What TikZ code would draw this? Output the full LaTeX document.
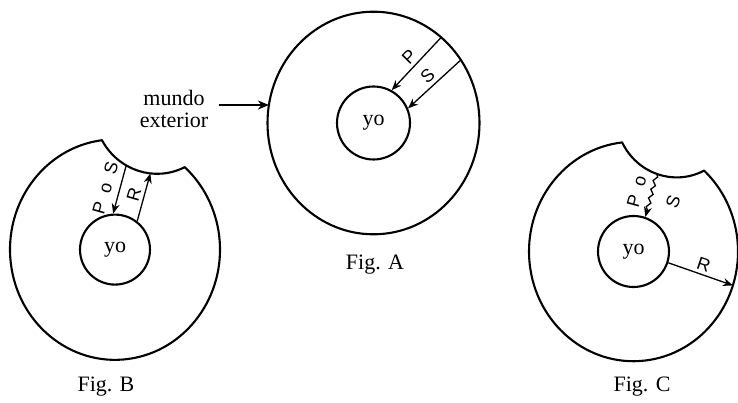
\documentclass[tikz,border=0pt]{standalone}
\usepackage{fontspec}
\setmainfont{Liberation Serif}
\newfontfamily\letrafont{Liberation Sans}
\usetikzlibrary{arrows.meta,decorations.pathmorphing}
\tikzset{
  borde/.style={line width=2.1pt, line join=round},
  yo/.style={circle, draw, line width=2.1pt, inner sep=0pt, font=\fontsize{22}{24}\selectfont},
  flecha/.style={line width=1.3pt, -{Stealth[length=10pt,width=8pt]}},
  letra/.style={font=\letrafont\fontsize{18}{20}\selectfont},
  pie/.style={font=\fontsize{22}{24}\selectfont},
  figura/.style={yscale=1.05}
}

\begin{document}
\begin{tikzpicture}[x=1pt,y=1pt]
\useasboundingbox (0,0) rectangle (738,402);
% Fig. A
\begin{scope}[shift={(373.5,279)},figura]
\draw[borde] (0,0) circle (106);
\node[yo, minimum size=73pt] (yoA) at (0,0) {yo};
\coordinate (pA) at (50.3:106);
\coordinate (sA) at (34.5:106);
\coordinate (extA) at (170.7:106);
\draw[flecha] (pA) -- node[sloped,above,letra]{P} (yoA.61);
\draw[flecha] (sA) -- node[sloped,above,letra]{S} (yoA.23);
\node[align=center, font=\fontsize{22}{22}\selectfont] (mundo) at (-199.5,13.3) {mundo\\exterior};
\draw[line width=2.8pt, -{Stealth[length=11pt,width=9pt]}]
  ([xshift=7pt]mundo.east |- extA) -- (extA);
\node[pie] (figA) at (1.5,-135.2) {Fig. A};
\end{scope}
% Fig. B
\begin{scope}[shift={(115,152.4)},figura]
\draw[borde] (97.2:105) arc[start angle=97.2, end angle=408.4, radius=105]
  arc[start angle=295.8, end angle=209.7, radius=63.5] -- cycle;
\node[yo, minimum size=70pt] (yoB) at (0,0) {yo};
\coordinate (mordB) at (42,135.7);
\path (mordB) ++(241:63.5) coordinate (psB);
\path (mordB) ++(264:63.5) coordinate (rB);
\draw[flecha] (psB) -- node[pos=0.55,sloped,above=4pt,letra]{P\ \ o\ \ S} (yoB.93);
\draw[flecha] (yoB.52) -- node[sloped,above,letra]{R} (rB);
\node[pie] (figB) at (-9,-130.9) {Fig. B};
\end{scope}
% Fig. C
\begin{scope}[shift={(633.5,150.5)},figura]
\draw[borde] (96.3:104.5) arc[start angle=96.3, end angle=407.5, radius=104.5]
  arc[start angle=296.6, end angle=207.1, radius=61.3] -- cycle;
\node[yo, minimum size=71pt] (yoC) at (0,0) {yo};
\coordinate (mordC) at (43.1,131.9);
\path (mordC) ++(251:61.3) coordinate (poC);
\coordinate (rC) at (-18:104.5);
\draw[flecha, decorate, decoration={snake, amplitude=1.8pt, segment length=9pt, post length=7pt}]
  (poC) -- (yoC.71);
\path (poC) -- node[sloped,above=5pt,letra]{P\ \ o} (yoC.71);
\node[letra, rotate=70] (sC) at (39.5,47.4) {S};
\draw[flecha] (yoC.-18) -- node[sloped,above,letra]{R} (rC);
\node[pie] (figC) at (8.5,-129) {Fig. C};
\end{scope}
\end{tikzpicture}
\end{document}
